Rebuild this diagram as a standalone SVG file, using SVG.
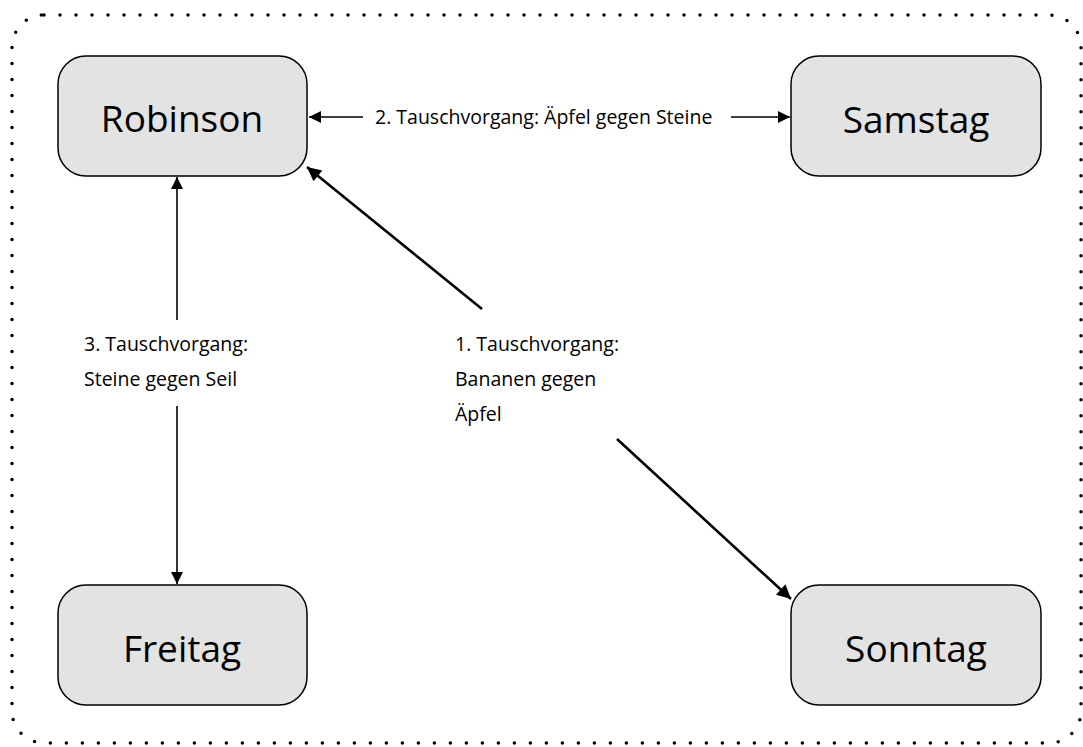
<svg xmlns="http://www.w3.org/2000/svg" width="1083" height="747" viewBox="0 0 1083 747">
<defs>
<marker id="ah" viewBox="0 0 10 10" refX="10" refY="5" markerWidth="12" markerHeight="12" markerUnits="userSpaceOnUse" orient="auto-start-reverse">
<path d="M0,0 L10,5 L0,10 z" fill="#000"/>
</marker>
<marker id="ahb" viewBox="0 0 10 10" refX="10" refY="5" markerWidth="16" markerHeight="14" markerUnits="userSpaceOnUse" orient="auto-start-reverse">
<path d="M0,0 L10,5 L0,10 z" fill="#000"/>
</marker>
<style>
.node rect{fill:#e3e3e3;stroke:#000;stroke-width:1.5}
.node text{font-family:"Open Sans","Noto Sans",sans-serif;font-size:37px;fill:#000;text-anchor:middle}
.lbl{font-family:"Open Sans","Noto Sans",sans-serif;font-size:19.5px;fill:#000}
.edge{stroke:#000;stroke-width:1.6;fill:none}
.edge2{stroke:#000;stroke-width:2.6;fill:none}
</style>
</defs>
<rect x="0" y="0" width="1083" height="747" fill="#fff"/>
<rect x="12" y="15" width="1069" height="728" rx="32" fill="none" stroke="#000" stroke-width="3.5" stroke-linecap="round" stroke-dasharray="0 16"/>
<g id="connectors">
<line class="edge" x1="363" y1="117" x2="309" y2="117" marker-end="url(#ah)"/>
<line class="edge" x1="731" y1="117" x2="790" y2="117" marker-end="url(#ah)"/>
<line class="edge" x1="177" y1="320" x2="177" y2="177" marker-end="url(#ah)"/>
<line class="edge" x1="177" y1="406" x2="177" y2="584" marker-end="url(#ah)"/>
<line class="edge2" x1="482" y1="309" x2="307" y2="167" marker-end="url(#ahb)"/>
<line class="edge2" x1="617" y1="439" x2="791" y2="599" marker-end="url(#ahb)"/>
<text class="lbl" x="375" y="124">2. Tauschvorgang: Äpfel gegen Steine</text>
<text class="lbl" x="84" y="351">3. Tauschvorgang:</text>
<text class="lbl" x="84" y="386">Steine gegen Seil</text>
<text class="lbl" x="455" y="351">1. Tauschvorgang:</text>
<text class="lbl" x="455" y="386">Bananen gegen</text>
<text class="lbl" x="455" y="421">Äpfel</text>
</g>
<g id="robinson" class="node"><rect x="58" y="56" width="249" height="120" rx="28"/><text x="182" y="132">Robinson</text></g>
<g id="samstag" class="node"><rect x="791" y="56" width="250" height="120" rx="28"/><text x="916" y="133">Samstag</text></g>
<g id="freitag" class="node"><rect x="58" y="585" width="249" height="120" rx="28"/><text x="182" y="662">Freitag</text></g>
<g id="sonntag" class="node"><rect x="791" y="585" width="250" height="120" rx="28"/><text x="916" y="662">Sonntag</text></g>
</svg>
